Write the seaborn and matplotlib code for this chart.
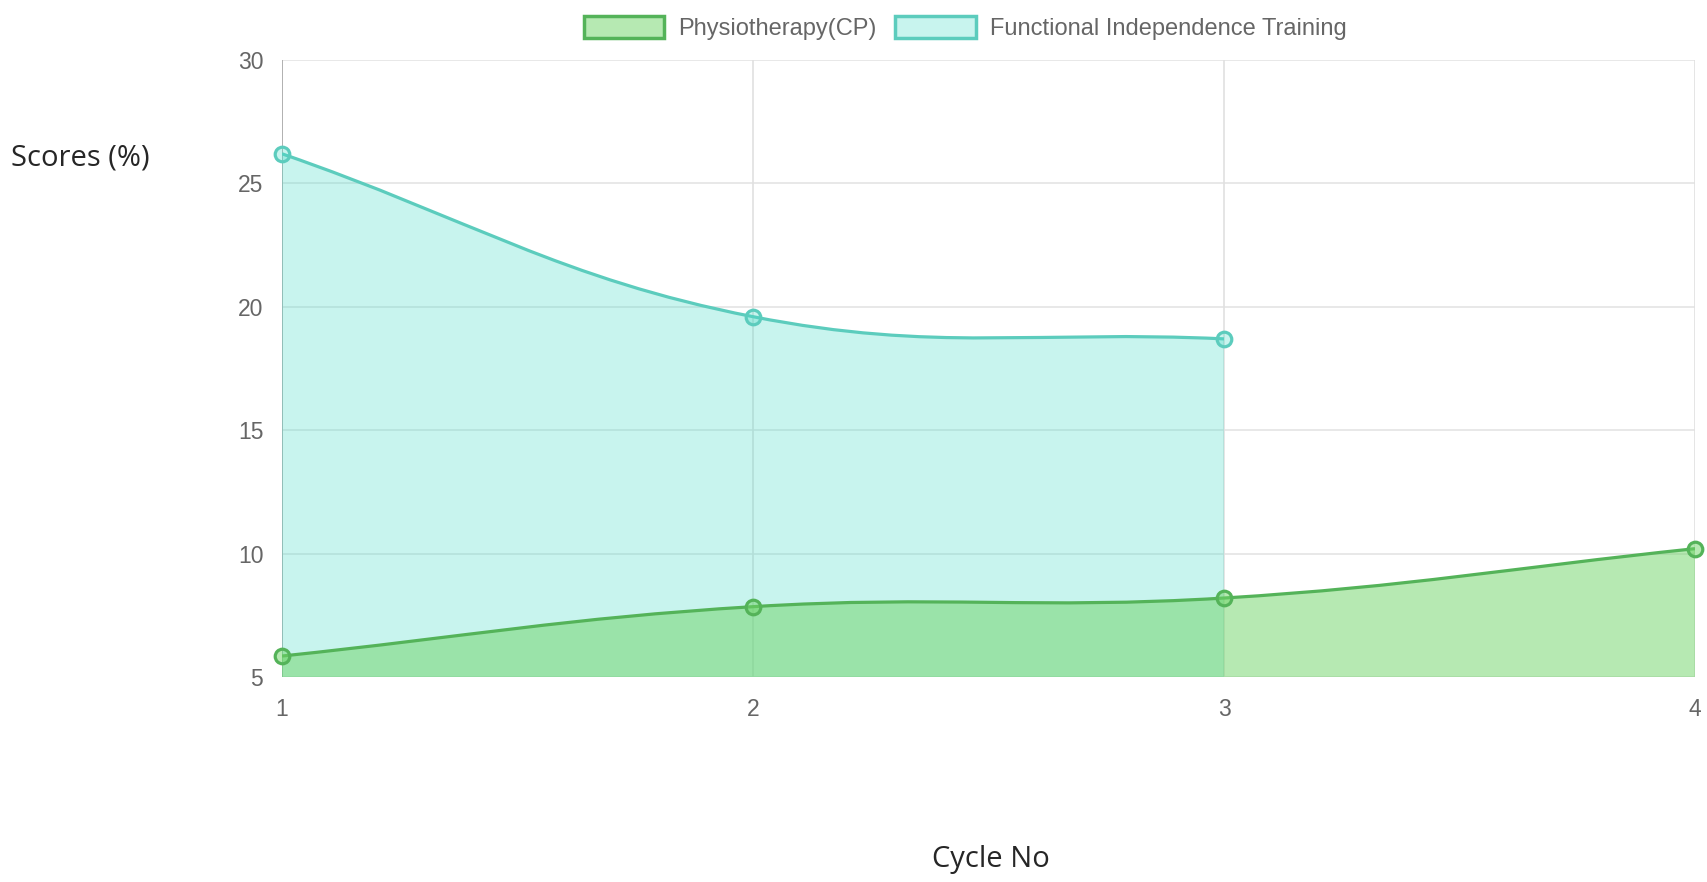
import numpy as np
import pandas as pd
import seaborn as sns
import matplotlib
matplotlib.use("Agg")
import matplotlib.pyplot as plt
from matplotlib.path import Path
from matplotlib.patches import PathPatch
from matplotlib.patches import Patch

# ---- data ----
cycles_physio = [1, 2, 3, 4]
scores_physio = [5.85, 7.85, 8.2, 10.2]
cycles_fit = [1, 2, 3]
scores_fit = [26.2, 19.6, 18.7]
series_names = ["Physiotherapy(CP)", "Functional Independence Training"]
x_ticks = [1, 2, 3, 4]
y_ticks = [5, 10, 15, 20, 25, 30]

sns.set_theme(style="white")
plt.rcParams['font.family'] = ['Liberation Sans', 'DejaVu Sans']

W, H = 1707, 882
fig = plt.figure(figsize=(W / 100, H / 100), dpi=100)
ax = fig.add_axes([282 / W, 1 - 677 / H, (1695 - 282) / W, (677 - 60) / H])
ax.set_xlim(1, 4)
ax.set_ylim(5, 30)

PHYS_LINE = (0.33, 0.70, 0.35)
PHYS_FILL = (0.43, 0.83, 0.40, 0.50)
FIT_LINE = (0.36, 0.80, 0.74)
FIT_FILL = (0.29, 0.86, 0.78, 0.30)


def smooth_path(xs, ys, base, tension=0.4):
    """Chart.js style bezier through the data points, computed in display space."""
    pts = ax.transData.transform(np.column_stack([xs, ys]))
    n = len(pts)
    cps = []
    for i in range(n):
        cur = pts[i]
        prev = pts[i - 1] if i > 0 else cur
        nxt = pts[i + 1] if i < n - 1 else cur
        d01 = np.hypot(*(cur - prev))
        d12 = np.hypot(*(nxt - cur))
        tot = d01 + d12
        s01 = d01 / tot if tot else 0
        s12 = d12 / tot if tot else 0
        fa, fb = tension * s01, tension * s12
        cps.append((cur - fa * (nxt - prev), cur + fb * (nxt - prev)))
    inv = ax.transData.inverted()
    verts = [pts[0]]
    codes = [Path.MOVETO]
    for i in range(n - 1):
        verts += [cps[i][1], cps[i + 1][0], pts[i + 1]]
        codes += [Path.CURVE4] * 3
    verts = [inv.transform(v) for v in verts]
    line_path = Path(verts, codes)
    fill_verts = verts + [(xs[-1], base), (xs[0], base), verts[0]]
    fill_codes = codes + [Path.LINETO, Path.LINETO, Path.CLOSEPOLY]
    fill_path = Path(fill_verts, fill_codes)
    return line_path, fill_path


# grid
for yv in y_ticks:
    ax.axhline(yv, color="#e4e4e4", lw=1.2, zorder=0)
for xv in x_ticks:
    ax.axvline(xv, color="#e0e0e0", lw=1.2, zorder=0)
ax.axvline(1, color="#a8a8a8", lw=1.2, zorder=0.5)

# FIT (drawn underneath)
lp, fp = smooth_path(cycles_fit, scores_fit, 5)
ax.add_patch(PathPatch(fp, facecolor=FIT_FILL, edgecolor="none", zorder=1))
ax.add_patch(PathPatch(lp, facecolor="none", edgecolor=FIT_LINE, lw=2.3, zorder=2))

# Physio (on top)
lp2, fp2 = smooth_path(cycles_physio, scores_physio, 5)
ax.add_patch(PathPatch(fp2, facecolor=PHYS_FILL, edgecolor="none", zorder=3))
ax.add_patch(PathPatch(lp2, facecolor="none", edgecolor=PHYS_LINE, lw=2.3, zorder=4))

df_fit = pd.DataFrame({"cycle": cycles_fit, "score": scores_fit})
df_phys = pd.DataFrame({"cycle": cycles_physio, "score": scores_physio})
sns.scatterplot(data=df_fit, x="cycle", y="score", ax=ax, s=110,
                facecolor=FIT_FILL, edgecolor=FIT_LINE, linewidth=2.3,
                zorder=5, clip_on=False, legend=False)
sns.scatterplot(data=df_phys, x="cycle", y="score", ax=ax, s=110,
                facecolor=PHYS_FILL, edgecolor=PHYS_LINE, linewidth=2.3,
                zorder=6, clip_on=False, legend=False)

for s in ax.spines.values():
    s.set_visible(False)

ax.set_xticks(x_ticks)
ax.set_yticks(y_ticks)
ax.set_xticklabels([str(v) for v in x_ticks])
ax.set_yticklabels([str(v) for v in y_ticks])
ax.tick_params(axis="both", which="both", length=13, width=1.2, color="#e0e0e0",
               labelcolor="#666666", labelsize=16.5, pad=0.5)
ax.tick_params(axis="x", pad=2)
ax.set_xlabel("")
ax.set_ylabel("")

fig.text(11 / W, 1 - 158 / H, "Scores (%)", fontsize=21, color="#262626",
         family=["Open Sans", "DejaVu Sans"], ha="left", va="center")
fig.text(991 / W, 1 - 860 / H, "Cycle No", fontsize=21, color="#262626",
         family=["Open Sans", "DejaVu Sans"], ha="center", va="center")

handles = [Patch(facecolor=PHYS_FILL, edgecolor=PHYS_LINE, lw=2.5),
           Patch(facecolor=FIT_FILL, edgecolor=FIT_LINE, lw=2.5)]
fig.legend(handles, series_names, loc="center", bbox_to_anchor=(965 / W, 1 - 28 / H),
           ncol=2, frameon=False, fontsize=17, labelcolor="#666666",
           handlelength=3.4, handleheight=1.05, handletextpad=0.6, columnspacing=0.8)

fig.savefig("out.png", dpi=100)
